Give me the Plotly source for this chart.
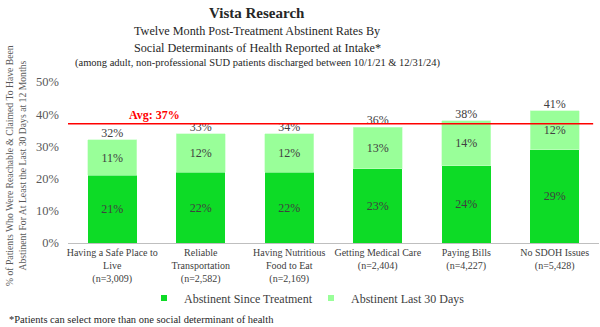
import plotly.graph_objects as go

categories = [
    "Having a Safe Place to<br>Live<br>(n=3,009)",
    "Reliable<br>Transportation<br>(n=2,582)",
    "Having Nutritious<br>Food to Eat<br>(n=2,169)",
    "Getting Medical Care<br>(n=2,404)",
    "Paying Bills<br>(n=4,227)",
    "No SDOH Issues<br>(n=5,428)",
]
since_treatment = [21, 22, 22, 23, 24, 29]
last_30_days = [11, 12, 12, 13, 14, 12]
totals = [32, 33, 34, 36, 38, 41]
average = 37
y_ticks = [0, 10, 20, 30, 40, 50]

FONT = "Liberation Serif"
TXT = "#404040"
DARK = "#0DDB26"
LIGHT = "#99FF99"

x = list(range(len(categories)))
stack_top = [a + b for a, b in zip(since_treatment, last_30_days)]

fig = go.Figure()
fig.add_trace(go.Bar(
    x=x, y=since_treatment, name="Abstinent Since Treatment", showlegend=False,
    marker=dict(color=DARK, line=dict(width=0)),
    text=[f"{v}%" for v in since_treatment], textposition="inside",
    insidetextanchor="middle", textfont=dict(size=12, color=TXT, family=FONT),
))
fig.add_trace(go.Bar(
    x=x, y=last_30_days, name="Abstinent Last 30 Days", showlegend=False,
    marker=dict(color=LIGHT, line=dict(width=0.6, color="#c8ffc8")),
    text=[f"{v}%" for v in last_30_days], textposition="inside",
    insidetextanchor="middle", textfont=dict(size=12, color=TXT, family=FONT),
))
fig.add_trace(go.Scatter(
    x=x, y=stack_top, mode="text", text=[f"{v}%" for v in totals],
    textposition="top center", textfont=dict(size=12, color=TXT, family=FONT),
    showlegend=False, hoverinfo="skip", cliponaxis=False,
))
for nm, col in [("Abstinent Since Treatment", DARK), ("Abstinent Last 30 Days", LIGHT)]:
    fig.add_trace(go.Scatter(x=[None], y=[None], mode="markers", name=nm,
                             marker=dict(symbol="square", size=6, color=col)))

fig.add_shape(type="line", xref="paper", yref="y", x0=0, x1=0.989,
              y0=average, y1=average, line=dict(color="#FF0000", width=1.5))

ann = [
    dict(text=f"<b>Avg: {average}%</b>", x=0.162, xref="paper", y=average, yref="y",
         xanchor="center", yanchor="bottom", showarrow=False,
         font=dict(size=12, color="#FF0000", family=FONT)),
    dict(text="<b>Vista Research</b>", x=257, y=13, font=dict(size=15, color="#262626", family=FONT)),
    dict(text="Twelve Month Post-Treatment Abstinent Rates By", x=257, y=31,
         font=dict(size=12.2, color="#262626", family=FONT)),
    dict(text="Social Determinants of Health Reported at Intake*", x=257, y=48,
         font=dict(size=12.2, color="#262626", family=FONT)),
    dict(text="(among adult, non-professional SUD patients discharged between 10/1/21 &amp; 12/31/24)",
         x=257, y=63, font=dict(size=10.5, color="#262626", family=FONT)),
    dict(text="*Patients can select more than one social determinant of health", x=7, y=319,
         xanchor="left", font=dict(size=10.5, color="#262626", family=FONT)),
    dict(text="% of Patients Who Were Reachable & Claimed To Have Been<br>Abstinent For At Least the Last 30 Days at 12 Months",
         x=16, y=166, textangle=-90, font=dict(size=9.7, color="#595959", family=FONT)),
]
W, H = 600, 327
L, R, T, B = 68, 1, 82, 84
pw, ph = W - L - R, H - T - B
annotations = []
for a in ann:
    if "xref" in a:
        a.setdefault("showarrow", False)
        annotations.append(a)
        continue
    d = dict(a)
    d["xref"] = "paper"
    d["yref"] = "paper"
    d["x"] = (a["x"] - L) / pw
    d["y"] = (H - B - a["y"]) / ph
    d.setdefault("xanchor", "center")
    d["yanchor"] = "middle"
    d["showarrow"] = False
    annotations.append(d)

fig.update_layout(
    width=W, height=H, barmode="stack", bargap=0.45,
    margin=dict(l=L, r=R, t=T, b=B),
    paper_bgcolor="white", plot_bgcolor="white",
    font=dict(family=FONT, color=TXT),
    annotations=annotations,
    legend=dict(orientation="h", x=(144 - L) / pw, xanchor="left", y=(H - B - 298) / ph,
                yanchor="middle", font=dict(size=12, color=TXT, family=FONT),
                bgcolor="rgba(0,0,0,0)",
                itemwidth=30, traceorder="normal", entrywidth=122, tracegroupgap=0),
    xaxis=dict(tickmode="array", tickvals=x, ticktext=categories, showgrid=False,
               showline=True, linecolor="#BFBFBF", linewidth=1, ticks="", tickangle=0,
               tickfont=dict(size=10, color=TXT, family=FONT), range=[-0.5, 5.5]),
    yaxis=dict(range=[0, 50], tickmode="array", tickvals=y_ticks,
               ticktext=[f"{v}%" for v in y_ticks], ticklabelstandoff=8,
               showgrid=False, zeroline=False, showline=False,
               tickfont=dict(size=12.5, color="#595959", family=FONT)),
    showlegend=True,
)
fig.write_html("out.html")
